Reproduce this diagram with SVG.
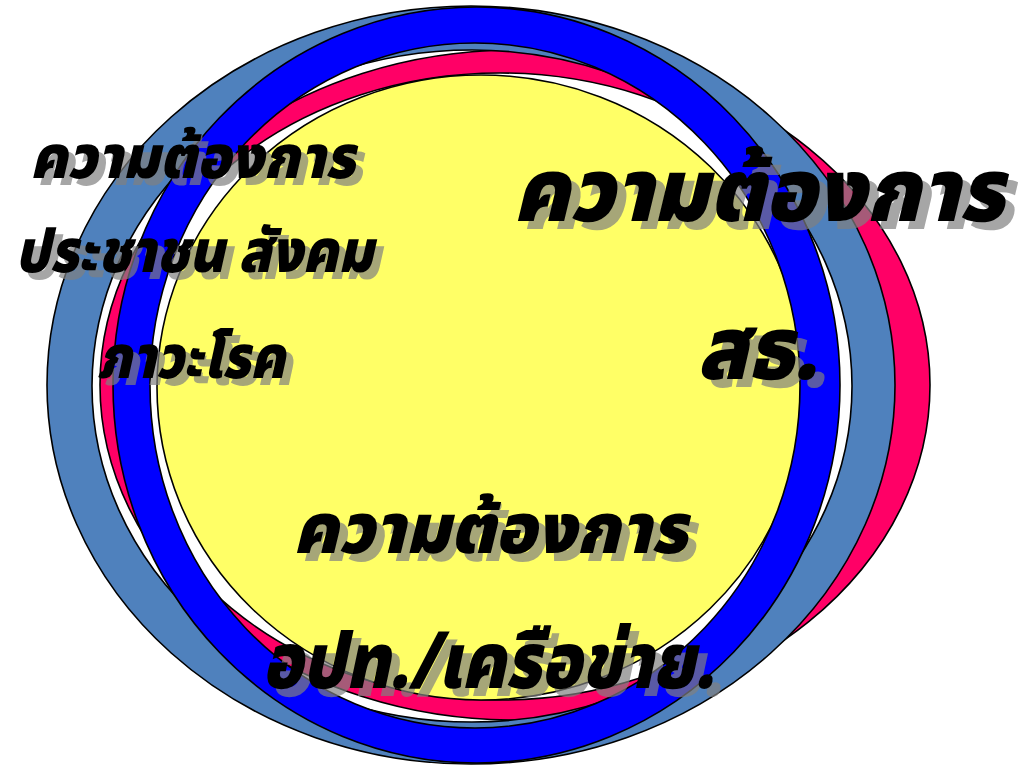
<svg xmlns="http://www.w3.org/2000/svg" width="1023" height="766" viewBox="0 0 1023 766">
  <style>
    .ring { stroke: #000; stroke-width: 1.6; fill-rule: evenodd; }
    .t { font-family: "Noto Sans Thai", "Noto Sans", "DejaVu Sans", sans-serif; font-weight: 900; font-style: italic; }
    .main { fill: #000; }
    .shadow { fill: #808080; fill-opacity: 0.7; }
  </style>
  <rect width="1023" height="766" fill="#fff"/>
  <g id="rings">
    <path id="ring-red" class="ring" fill="#ff0066" d="M100,385 a415,335 0 1,0 830,0 a415,335 0 1,0 -830,0 Z M120,386.5 a380,313.5 0 1,0 760,0 a380,313.5 0 1,0 -760,0 Z"/>
    <path id="ring-steel" class="ring" fill="#4f81bd" d="M47,385 a424,379 0 1,0 848,0 a424,379 0 1,0 -848,0 Z M92,386 a380,336 0 1,0 760,0 a380,336 0 1,0 -760,0 Z"/>
    <ellipse id="core" class="ring" fill="#ffff66" cx="481" cy="387.5" rx="324" ry="312.5"/>
    <path id="ring-blue" class="ring" fill="#0000ff" d="M113,385 a363.5,378 0 1,0 727,0 a363.5,378 0 1,0 -727,0 Z M150,385.5 a325,342.5 0 1,0 650,0 a325,342.5 0 1,0 -650,0 Z"/>
  </g>
  <g id="label-people" class="t">
    <text class="shadow" x="37" y="185" font-size="60" textLength="325" lengthAdjust="spacingAndGlyphs">ความต้องการ</text>
    <text class="main" x="30" y="178" font-size="60" textLength="325" lengthAdjust="spacingAndGlyphs">ความต้องการ</text>
    <text class="shadow" x="22" y="279" font-size="60" textLength="358" lengthAdjust="spacingAndGlyphs">ประชาชน สังคม</text>
    <text class="main" x="15" y="272" font-size="60" textLength="358" lengthAdjust="spacingAndGlyphs">ประชาชน สังคม</text>
    <text class="shadow" x="104" y="385" font-size="60" textLength="188" lengthAdjust="spacingAndGlyphs">ภาวะโรค</text>
    <text class="main" x="97" y="378" font-size="60" textLength="188" lengthAdjust="spacingAndGlyphs">ภาวะโรค</text>
  </g>
  <g id="label-moph" class="t">
    <text class="shadow" x="522" y="229" font-size="88" textLength="491" lengthAdjust="spacingAndGlyphs">ความต้องการ</text>
    <text class="main" x="513" y="221" font-size="88" textLength="491" lengthAdjust="spacingAndGlyphs">ความต้องการ</text>
    <text class="shadow" x="706" y="387" font-size="88" textLength="120" lengthAdjust="spacingAndGlyphs">สธ.</text>
    <text class="main" x="697" y="379" font-size="88" textLength="120" lengthAdjust="spacingAndGlyphs">สธ.</text>
  </g>
  <g id="label-local" class="t">
    <text class="shadow" x="301" y="561" font-size="70" textLength="394" lengthAdjust="spacingAndGlyphs">ความต้องการ</text>
    <text class="main" x="293" y="553" font-size="70" textLength="394" lengthAdjust="spacingAndGlyphs">ความต้องการ</text>
    <text class="shadow" x="270" y="696" font-size="78" textLength="452" lengthAdjust="spacingAndGlyphs">อปท./เครือข่าย.</text>
    <text class="main" x="262" y="688" font-size="78" textLength="452" lengthAdjust="spacingAndGlyphs">อปท./เครือข่าย.</text>
  </g>
</svg>
